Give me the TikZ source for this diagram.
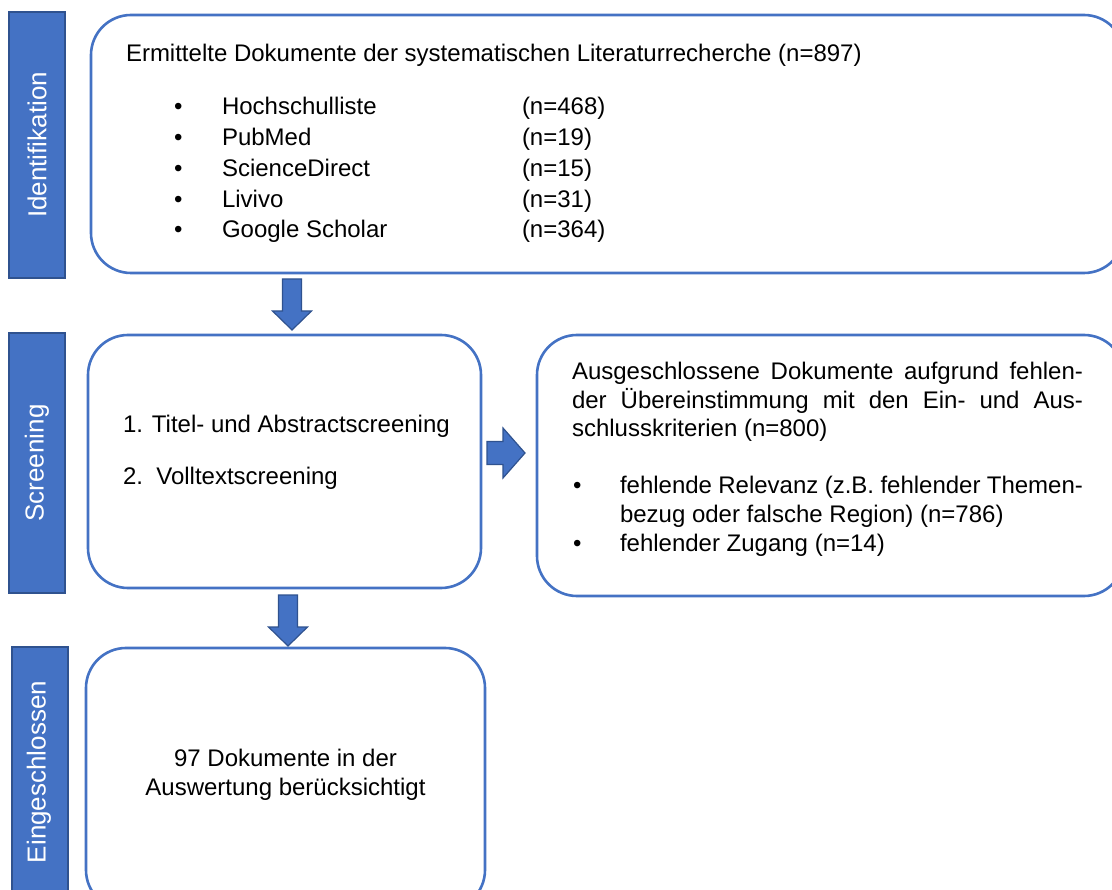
\documentclass[tikz,border=0pt]{standalone}
\usepackage{fontspec}
\setmainfont{Liberation Sans}
\definecolor{boxblue}{HTML}{4472C4}
\definecolor{darkblue}{HTML}{2F528F}
\begin{document}
\begin{tikzpicture}[x=1pt,y=-1pt,
  every node/.style={inner sep=0pt, outer sep=0pt},
  txt/.style={anchor=base west, font=\fontsize{24}{28}\selectfont, text=black},
  ctxt/.style={anchor=base, font=\fontsize{24}{28}\selectfont, text=black},
  bar/.style={draw=darkblue, line width=1.8pt, fill=boxblue},
  barlabel/.style={rotate=90, text=white, font=\fontsize{26}{30}\selectfont},
  roundbox/.style={draw=boxblue, line width=2.6pt, rounded corners=40pt, fill=white},
  blockarrow/.style={draw=darkblue, line width=1.2pt, fill=boxblue, line join=miter},
  blockdown/.pic={\path[blockarrow] (-9.5,0) -- (9.5,0) -- (9.5,32) -- (19.5,32) -- (0,51) -- (-19.5,32) -- (-9.5,32) -- cycle;},
  blockright/.pic={\path[blockarrow] (0,-11.5) -- (16,-11.5) -- (16,-25) -- (38,0) -- (16,25) -- (16,11.5) -- (0,11.5) -- cycle;}
]
\useasboundingbox (0,0) rectangle (1112,890);
\fill[white] (0,0) rectangle (1112,890);

% side bars
\path[bar] (9,12) rectangle (65,278);
\node[barlabel] (lid) at (37,145) {Identifikation};
\path[bar] (9,333) rectangle (65,593);
\node[barlabel] (lsc) at (37,463) {Screening};
\path[bar] (12,647) rectangle (68,905);
\node[barlabel] (lei) at (39,772) {Eingeschlossen};

% boxes
\path[roundbox] (91,15) rectangle (1124,273);
\path[roundbox] (88,335) rectangle (481,588);
\path[roundbox] (537,335) rectangle (1124,596);
\path[roundbox] (86,648) rectangle (485,910);

% arrows
\pic at (292,279) {blockdown};
\pic at (487,453) {blockright};
\pic at (288,595) {blockdown};

% box 1 text
\node[txt] (t1) at (126,62) {Ermittelte Dokumente der systematischen Literaturrecherche (n=897)};
\foreach \y/\name/\n in {115/Hochschulliste/468, 146/PubMed/19, 177/ScienceDirect/15, 208/Livivo/31, 238/Google Scholar/364}{
  \node[txt] at (174,\y) {\textbullet};
  \node[txt] at (222,\y) {\name};
  \node[txt] at (522,\y) {(n=\n)};
}

% box 2 text
\node[txt] (s1) at (123,433) {1. Titel- und Abstractscreening};
\node[txt] (s2) at (123,485) {2.\ \ Volltextscreening};

% box 3 text
\node[txt] (e1) at (572,380) {\makebox[511pt][s]{Ausgeschlossene Dokumente aufgrund fehlen-}};
\node[txt] (e2) at (572,409) {\makebox[511pt][s]{der Übereinstimmung mit den Ein- und Aus-}};
\node[txt] (e3) at (572,437) {schlusskriterien (n=800)};
\node[txt] at (573,494) {\textbullet};
\node[txt] (b1) at (620,494) {\makebox[463pt][s]{fehlende Relevanz (z.B. fehlender Themen-}};
\node[txt] (b2) at (620,522) {bezug oder falsche Region) (n=786)};
\node[txt] at (573,551) {\textbullet};
\node[txt] (b3) at (620,551) {fehlender Zugang (n=14)};

% box 4 text
\node[ctxt] (i1) at (285.5,766) {97 Dokumente in der};
\node[ctxt] (i2) at (285.5,795) {Auswertung berücksichtigt};
\end{tikzpicture}
\end{document}
